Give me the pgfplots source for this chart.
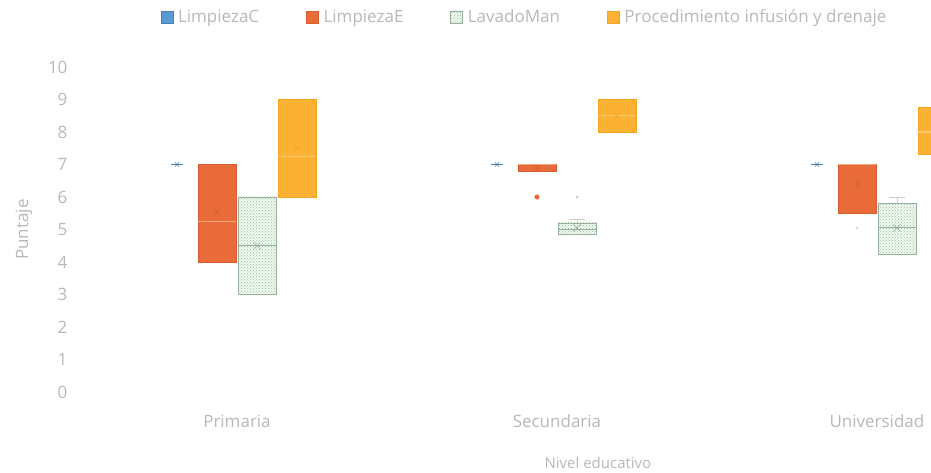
\documentclass[border=0pt]{standalone}
\usepackage{pgfplots}
\pgfplotsset{compat=1.18}
\usepgfplotslibrary{statistics}
\usetikzlibrary{patterns}
\usepackage{fontspec}
\setmainfont{Open Sans}
\definecolor{cC}{HTML}{5B9BD5}
\definecolor{cCd}{HTML}{4A7FB0}
\definecolor{cE}{HTML}{EA6B3A}
\definecolor{cEd}{HTML}{D65E30}
\definecolor{cEm}{HTML}{F5A57A}
\definecolor{cL}{HTML}{8CC497}
\definecolor{cLd}{HTML}{99AE9C}
\definecolor{cLf}{HTML}{F1F8F1}
\definecolor{cP}{HTML}{FBB234}
\definecolor{cPd}{HTML}{F2A622}
\definecolor{cPm}{HTML}{FCC665}
\definecolor{txt}{HTML}{B8B8B8}
\pgfplotsset{
  Cbox/.style={draw=cCd, line width=0.6pt,
    boxplot/box extend=0.035, boxplot/whisker extend=0,
    boxplot/every box/.style={draw=cCd, fill=cC},
    boxplot/every average/.style={/tikz/mark=x, /tikz/mark size=3pt, /tikz/draw=cCd}},
  Ebox/.style={draw=cEd, line width=0.6pt, mark=*, mark size=2.2pt, mark options={fill=cE, draw=cE},
    boxplot/box extend=0.118, boxplot/whisker extend=0,
    boxplot/every box/.style={draw=cEd, fill=cE},
    boxplot/every median/.style={draw=cEm, line width=1.3pt},
    boxplot/every average/.style={/tikz/mark=x, /tikz/mark size=4pt, /tikz/draw=cEd!80!black, /tikz/line width=0.5pt}},
  Lbox/.style={draw=cLd, line width=0.6pt, mark=*, mark size=1.2pt, mark options={fill=cLd!60, draw=cLd!60},
    boxplot/box extend=0.118, boxplot/whisker extend=0.05,
    boxplot/every box/.style={draw=cLd, fill=cLf, postaction={pattern=crosshatch dots, pattern color=cL}},
    boxplot/every whisker/.style={draw=cLd!60},
    boxplot/every median/.style={draw=cLd, line width=0.8pt},
    boxplot/every average/.style={/tikz/mark=x, /tikz/mark size=5pt, /tikz/draw=gray!80, /tikz/line width=0.6pt}},
  Pbox/.style={draw=cPd, line width=0.6pt,
    boxplot/box extend=0.118, boxplot/whisker extend=0,
    boxplot/every box/.style={draw=cPd, fill=cP},
    boxplot/every median/.style={draw=cPm, line width=1.3pt},
    boxplot/every average/.style={/tikz/mark=x, /tikz/mark size=4pt, /tikz/draw=cPd!85!black, /tikz/line width=0.5pt}},
}
\begin{document}
\begin{tikzpicture}[font=\fontsize{17}{20}\selectfont]
\begin{axis}[name=ax,
  scale only axis, width=854pt, height=325pt,
  xmin=-0.5, xmax=2.169, ymin=0, ymax=10,
  clip=true,
  boxplot/draw direction=y,
  axis line style={draw=none}, major tick length=0pt,
  ytick={0,1,2,3,4,5,6,7,8,9,10},
  xtick={0,1,2}, xticklabels={Primaria,Secundaria,Universidad},
  ticklabel style={text=txt, font=\fontsize{17}{20}\selectfont},
  /pgf/number format/assume math mode=true,
  xticklabel style={anchor=base, yshift=-36pt},
  yticklabel style={anchor=east, xshift=-6pt},
  xlabel={Nivel educativo},
  xlabel style={at={(axis description cs:0.61,-0.218)}, anchor=center, text=txt, font=\fontsize{15}{18}\selectfont},
  ylabel={Puntaje},
  ylabel style={at={(axis description cs:-0.062,0.5)}, anchor=center, text=txt, font=\fontsize{17}{20}\selectfont},
  legend columns=4,
  legend style={at={(axis description cs:0.524,1.154)}, anchor=center, draw=none, fill=none,
    text=txt, font=\fontsize{17}{20}\selectfont,
    /tikz/every odd column/.append style={column sep=3pt},
    /tikz/every even column/.append style={column sep=45pt}},
  legend image code/.code={\draw[#1] (0pt,-6pt) rectangle (12pt,6pt);},
]
\addlegendimage{draw=cCd, fill=cC}
\addlegendentry{LimpiezaC}
\addlegendimage{draw=cEd, fill=cE}
\addlegendentry{LimpiezaE}
\addlegendimage{draw=cLd, fill=cLf, postaction={pattern=crosshatch dots, pattern color=cL}}
\addlegendentry{LavadoMan}
\addlegendimage{draw=cPd, fill=cP}
\addlegendentry{Procedimiento infusión y drenaje}

% Primaria
\addplot[forget plot, Cbox, boxplot prepared={draw position=-0.1875, lower whisker=7, lower quartile=7, median=7, upper quartile=7, upper whisker=7, average=7}] coordinates {};
\addplot[forget plot, Ebox, boxplot prepared={draw position=-0.0625, lower whisker=4, lower quartile=4, median=5.25, upper quartile=7, upper whisker=7, average=5.55}] coordinates {};
\addplot[forget plot, Lbox, boxplot prepared={draw position=0.0625, lower whisker=3, lower quartile=3, median=4.5, upper quartile=6, upper whisker=6, average=4.5}] coordinates {};
\addplot[forget plot, Pbox, boxplot prepared={draw position=0.1875, lower whisker=6, lower quartile=6, median=7.25, upper quartile=9, upper whisker=9, average=7.5}] coordinates {};

% Secundaria
\addplot[forget plot, Cbox, boxplot prepared={draw position=0.8125, lower whisker=7, lower quartile=7, median=7, upper quartile=7, upper whisker=7, average=7}] coordinates {};
\addplot[forget plot, Ebox, boxplot prepared={draw position=0.9375, lower whisker=6.8, lower quartile=6.8, median=7, upper quartile=7, upper whisker=7, average=6.9}] table[row sep=\\, y index=0] {data\\ 6\\};
\addplot[forget plot, Lbox, boxplot prepared={draw position=1.0625, lower whisker=4.85, lower quartile=4.85, median=5, upper quartile=5.2, upper whisker=5.3, average=5.05}] table[row sep=\\, y index=0] {data\\ 6\\};
\addplot[forget plot, Pbox, boxplot prepared={draw position=1.1875, lower whisker=8, lower quartile=8, median=8.5, upper quartile=9, upper whisker=9, average=8.5}] coordinates {};

% Universidad
\addplot[forget plot, Cbox, boxplot prepared={draw position=1.8125, lower whisker=7, lower quartile=7, median=7, upper quartile=7, upper whisker=7, average=7}] coordinates {};
\addplot[forget plot, Ebox, mark options={fill=gray!30, draw=gray!30}, mark size=1.2pt, boxplot prepared={draw position=1.9375, lower whisker=5.5, lower quartile=5.5, median=7, upper quartile=7, upper whisker=7, average=6.4}] table[row sep=\\, y index=0] {data\\ 5.05\\};
\addplot[forget plot, Lbox, boxplot prepared={draw position=2.0625, lower whisker=4.25, lower quartile=4.25, median=5.05, upper quartile=5.8, upper whisker=6, average=5.05}] coordinates {};
\addplot[forget plot, Pbox, boxplot prepared={draw position=2.1875, lower whisker=7.3, lower quartile=7.3, median=8, upper quartile=8.75, upper whisker=8.75, average=8}] coordinates {};
\end{axis}
\path (ax.south west) ++(-77pt,-81pt) coordinate (bl);
\path (ax.north east) ++(0pt,67pt) coordinate (tr);
\pgfresetboundingbox
\useasboundingbox (bl) rectangle (tr);
\end{tikzpicture}
\end{document}
